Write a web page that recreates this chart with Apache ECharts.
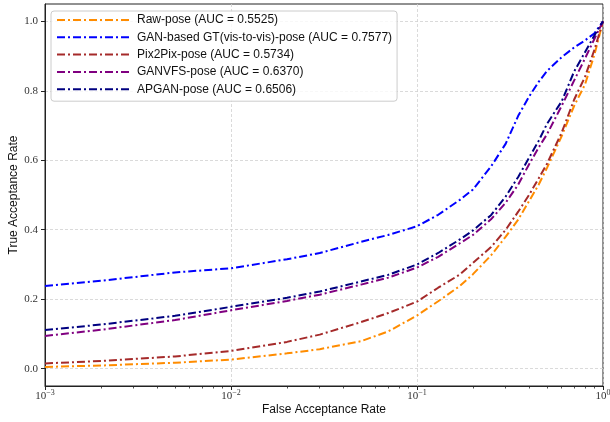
<!DOCTYPE html>
<html>
<head>
<meta charset="utf-8">
<script src="https://cdn.jsdelivr.net/npm/echarts@6/dist/echarts.min.js"></script>
<style>
  html, body { margin: 0; padding: 0; background: #fff; }
  #chart { width: 610px; height: 422px; }
</style>
</head>
<body>
<div id="chart"></div>
<script>
// FPR sample points shared by every curve
const fpr = [0.001, 0.002, 0.005, 0.01, 0.02, 0.03, 0.05, 0.07, 0.1, 0.13, 0.17, 0.2,
  0.25, 0.3, 0.35, 0.4, 0.45, 0.5, 0.6, 0.7, 0.8, 0.9, 1.0];

// TAR values
const rawTar = [0.005, 0.009, 0.017, 0.026, 0.044, 0.056, 0.079, 0.107, 0.153, 0.194, 0.238, 0.272,
  0.326, 0.380, 0.429, 0.482, 0.529, 0.578, 0.670, 0.757, 0.818, 0.905, 1.0];
const ganTar = [0.238, 0.253, 0.277, 0.289, 0.315, 0.333, 0.365, 0.385, 0.410, 0.443, 0.486, 0.516,
  0.582, 0.648, 0.728, 0.783, 0.825, 0.857, 0.897, 0.925, 0.945, 0.966, 1.0];
const pixTar = [0.015, 0.022, 0.035, 0.051, 0.077, 0.098, 0.134, 0.160, 0.193, 0.233, 0.271, 0.305,
  0.350, 0.400, 0.452, 0.500, 0.547, 0.590, 0.680, 0.775, 0.840, 0.919, 1.0];
const ganvfsTar = [0.094, 0.112, 0.140, 0.168, 0.195, 0.213, 0.242, 0.262, 0.291, 0.322, 0.361, 0.385,
  0.430, 0.478, 0.530, 0.588, 0.636, 0.675, 0.757, 0.830, 0.893, 0.950, 1.0];
const apganTar = [0.111, 0.127, 0.152, 0.178, 0.204, 0.222, 0.251, 0.270, 0.300, 0.333, 0.372, 0.398,
  0.442, 0.496, 0.552, 0.607, 0.655, 0.705, 0.770, 0.856, 0.911, 0.960, 1.0];

const names = [
  'Raw-pose (AUC = 0.5525)',
  'GAN-based GT(vis-to-vis)-pose (AUC = 0.7577)',
  'Pix2Pix-pose (AUC = 0.5734)',
  'GANVFS-pose (AUC = 0.6370)',
  'APGAN-pose (AUC = 0.6506)'
];
const colors = ['#ff8c00', '#0000ff', '#a52a2a', '#800080', '#000080'];
const yTicks = [0, 0.2, 0.4, 0.6, 0.8, 1.0];
const xMinorTicks = [];
[0.001, 0.01, 0.1].forEach(d => {
  for (let k = 2; k <= 9; k++) xMinorTicks.push(+(d * k).toPrecision(3));
});

const allTar = [rawTar, ganTar, pixTar, ganvfsTar, apganTar];

const myChart = echarts.init(document.getElementById('chart'));

const series = allTar.map((tar, i) => ({
  name: names[i],
  type: 'line',
  xAxisIndex: 0,
  symbol: 'none',
  smooth: false,
  data: fpr.map((x, j) => [x, tar[j]]),
  lineStyle: { color: colors[i], width: 2, type: [8, 3, 2, 3] },
  itemStyle: { color: colors[i] }
}));

const serifFont = 'Liberation Serif';

const option = {
  animation: false,
  backgroundColor: '#fff',
  grid: {
    left: 45, right: 7, top: 4, bottom: 36,
    containLabel: false, outerBoundsMode: 'none',
    show: true, borderColor: '#222', borderWidth: 1
  },
  legend: {
    orient: 'vertical',
    left: 51,
    top: 11,
    itemWidth: 72,
    itemHeight: 14,
    itemGap: 3.3,
    padding: [2, 5, 5, 5],
    backgroundColor: 'rgba(255,255,255,0.8)',
    borderColor: '#cccccc',
    borderWidth: 1,
    borderRadius: 3,
    itemStyle: { opacity: 0 },
    textStyle: { fontFamily: 'Liberation Sans', fontSize: 12, color: '#111', lineHeight: 14, padding: [0, 0, 0, 3] },
    data: names
  },
  xAxis: [
    {
      type: 'log',
      logBase: 10,
      min: 0.001,
      max: 1,
      name: 'False Acceptance Rate',
      nameLocation: 'middle',
      nameGap: 18,
      nameMoveOverlap: false,
      nameTextStyle: { fontFamily: 'Liberation Sans', fontSize: 12, color: '#111' },
      axisLine: { show: true, onZero: false, lineStyle: { color: '#222', width: 1 } },
      axisTick: { show: true, inside: false, length: 4, lineStyle: { color: '#222' } },
      axisLabel: {
        margin: 3,
        formatter: v => {
          const e = Math.round(Math.log10(v));
          return '{b|10}{s|' + (e < 0 ? '\u2212' + (-e) : e) + '}';
        },
        rich: {
          b: { fontFamily: serifFont, fontSize: 11, color: '#333', verticalAlign: 'bottom' },
          s: { fontFamily: serifFont, fontSize: 8, color: '#333', verticalAlign: 'bottom', padding: [0, 0, 5, 0] }
        }
      },
      splitLine: { show: true, lineStyle: { color: '#d0d0d0', width: 0.8, type: [3, 2] } },
      minorTick: { show: false }
    },
    {
      type: 'log',
      logBase: 10,
      min: 0.001,
      max: 1,
      gridIndex: 0,
      position: 'bottom',
      axisLine: { show: false, onZero: false },
      axisLabel: { show: false },
      splitLine: { show: false },
      axisTick: { show: true, inside: false, length: 2.5, customValues: xMinorTicks, lineStyle: { color: '#222', width: 0.8 } }
    }
  ],
  yAxis: {
    type: 'value',
    min: -0.05,
    max: 1.05,
    name: 'True Acceptance Rate',
    nameLocation: 'middle',
    nameGap: 25,
    nameMoveOverlap: false,
    nameTextStyle: { fontFamily: 'Liberation Sans', fontSize: 12, color: '#111' },
    axisLine: { show: true, onZero: false, lineStyle: { color: '#222', width: 1 } },
    axisTick: { show: true, inside: false, length: 4, customValues: yTicks, lineStyle: { color: '#222' } },
    axisLabel: {
      customValues: yTicks,
      margin: 7,
      fontFamily: serifFont,
      fontSize: 11,
      color: '#333',
      formatter: v => v.toFixed(1)
    },
    splitLine: { show: true, lineStyle: { color: '#d0d0d0', width: 0.8, type: [3, 2] } }
  },
  series: series
};

myChart.setOption(option);
</script>
</body>
</html>
